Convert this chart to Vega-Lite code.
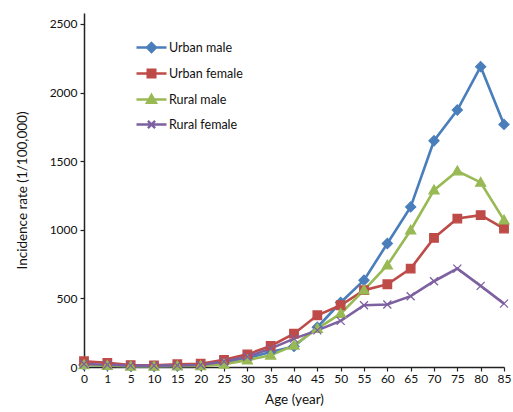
{
  "$schema": "https://vega.github.io/schema/vega-lite/v6.json",
  "width": 420,
  "height": 354,
  "autosize": "none",
  "padding": {"left": 84, "top": 13, "right": 9, "bottom": 45},
  "background": "white",
  "config": {
    "font": "Lato",
    "view": {"stroke": null},
    "axis": {"grid": false, "domainColor": "#222", "tickColor": "#222", "labelColor": "#111", "titleColor": "#111", "labelFont": "Lato", "titleFont": "Lato", "titleFontWeight": "normal", "domainWidth": 1.5, "tickWidth": 1.2}
  },
  "data": {
    "values": [
      {"age": "0", "series": "Urban male", "rate": 15},
      {"age": "1", "series": "Urban male", "rate": 12},
      {"age": "5", "series": "Urban male", "rate": 6},
      {"age": "10", "series": "Urban male", "rate": 5},
      {"age": "15", "series": "Urban male", "rate": 8},
      {"age": "20", "series": "Urban male", "rate": 12},
      {"age": "25", "series": "Urban male", "rate": 30},
      {"age": "30", "series": "Urban male", "rate": 65},
      {"age": "35", "series": "Urban male", "rate": 110},
      {"age": "40", "series": "Urban male", "rate": 150},
      {"age": "45", "series": "Urban male", "rate": 290},
      {"age": "50", "series": "Urban male", "rate": 470},
      {"age": "55", "series": "Urban male", "rate": 632},
      {"age": "60", "series": "Urban male", "rate": 900},
      {"age": "65", "series": "Urban male", "rate": 1167},
      {"age": "70", "series": "Urban male", "rate": 1649},
      {"age": "75", "series": "Urban male", "rate": 1873},
      {"age": "80", "series": "Urban male", "rate": 2189},
      {"age": "85", "series": "Urban male", "rate": 1768},
      {"age": "0", "series": "Urban female", "rate": 42},
      {"age": "1", "series": "Urban female", "rate": 30},
      {"age": "5", "series": "Urban female", "rate": 14},
      {"age": "10", "series": "Urban female", "rate": 12},
      {"age": "15", "series": "Urban female", "rate": 20},
      {"age": "20", "series": "Urban female", "rate": 24},
      {"age": "25", "series": "Urban female", "rate": 52},
      {"age": "30", "series": "Urban female", "rate": 92},
      {"age": "35", "series": "Urban female", "rate": 153},
      {"age": "40", "series": "Urban female", "rate": 243},
      {"age": "45", "series": "Urban female", "rate": 377},
      {"age": "50", "series": "Urban female", "rate": 450},
      {"age": "55", "series": "Urban female", "rate": 560},
      {"age": "60", "series": "Urban female", "rate": 603},
      {"age": "65", "series": "Urban female", "rate": 717},
      {"age": "70", "series": "Urban female", "rate": 941},
      {"age": "75", "series": "Urban female", "rate": 1082},
      {"age": "80", "series": "Urban female", "rate": 1107},
      {"age": "85", "series": "Urban female", "rate": 1009},
      {"age": "0", "series": "Rural male", "rate": 15},
      {"age": "1", "series": "Rural male", "rate": 10},
      {"age": "5", "series": "Rural male", "rate": 5},
      {"age": "10", "series": "Rural male", "rate": 5},
      {"age": "15", "series": "Rural male", "rate": 7},
      {"age": "20", "series": "Rural male", "rate": 8},
      {"age": "25", "series": "Rural male", "rate": 20},
      {"age": "30", "series": "Rural male", "rate": 50},
      {"age": "35", "series": "Rural male", "rate": 85},
      {"age": "40", "series": "Rural male", "rate": 158},
      {"age": "45", "series": "Rural male", "rate": 280},
      {"age": "50", "series": "Rural male", "rate": 389},
      {"age": "55", "series": "Rural male", "rate": 560},
      {"age": "60", "series": "Rural male", "rate": 742},
      {"age": "65", "series": "Rural male", "rate": 997},
      {"age": "70", "series": "Rural male", "rate": 1289},
      {"age": "75", "series": "Rural male", "rate": 1428},
      {"age": "80", "series": "Rural male", "rate": 1345},
      {"age": "85", "series": "Rural male", "rate": 1070},
      {"age": "0", "series": "Rural female", "rate": 22},
      {"age": "1", "series": "Rural female", "rate": 16},
      {"age": "5", "series": "Rural female", "rate": 10},
      {"age": "10", "series": "Rural female", "rate": 10},
      {"age": "15", "series": "Rural female", "rate": 12},
      {"age": "20", "series": "Rural female", "rate": 15},
      {"age": "25", "series": "Rural female", "rate": 40},
      {"age": "30", "series": "Rural female", "rate": 75},
      {"age": "35", "series": "Rural female", "rate": 134},
      {"age": "40", "series": "Rural female", "rate": 207},
      {"age": "45", "series": "Rural female", "rate": 267},
      {"age": "50", "series": "Rural female", "rate": 336},
      {"age": "55", "series": "Rural female", "rate": 450},
      {"age": "60", "series": "Rural female", "rate": 455},
      {"age": "65", "series": "Rural female", "rate": 516},
      {"age": "70", "series": "Rural female", "rate": 625},
      {"age": "75", "series": "Rural female", "rate": 717},
      {"age": "80", "series": "Rural female", "rate": 591},
      {"age": "85", "series": "Rural female", "rate": 462}
    ]
  },
  "encoding": {
    "x": {
      "field": "age", "type": "ordinal", "sort": null,
      "scale": {"type": "point", "padding": 0},
      "axis": {"title": "Age (year)", "labelAngle": 0, "labelFontSize": 12, "titleFontSize": 13.5, "tickSize": 4, "labelPadding": 2, "titlePadding": 8}
    },
    "y": {
      "field": "rate", "type": "quantitative",
      "scale": {"domain": [0, 2580], "nice": false},
      "axis": {"title": "Incidence rate (1/100,000)", "values": [0, 500, 1000, 1500, 2000, 2500], "format": "d", "labelFontSize": 12, "titleFontSize": 13.5, "tickSize": 4, "labelPadding": 3, "titlePadding": 20}
    },
    "color": {
      "field": "series", "type": "nominal",
      "scale": {"domain": ["Urban male", "Urban female", "Rural male", "Rural female"], "range": ["#4A7EBB", "#BE4B48", "#98B954", "#7D60A0"]},
      "legend": {
        "title": null,
        "orient": "none",
        "legendX": 56,
        "legendY": 23,
        "padding": 0,
        "symbolSize": 400,
        "rowPadding": 5,
        "labelOffset": 6,
        "labelFont": "Lato",
        "labelFontSize": 12.5,
        "labelColor": "#111",
        "encode": {
          "symbols": {
            "update": {
              "shape": {"signal": "datum.value === 'Urban male' ? 'M-1.5,0L1.5,0M0,-0.45L0.45,0L0,0.45L-0.45,0Z' : datum.value === 'Urban female' ? 'M-1.5,0L1.5,0M-0.38,-0.38H0.38V0.38H-0.38Z' : datum.value === 'Rural male' ? 'M-1.5,0L1.5,0M0,-0.45L0.45,0.34L-0.45,0.34Z' : 'M-1.5,0L1.5,0M-0.36,-0.36L0.36,0.36M-0.36,0.36L0.36,-0.36'"},
              "fill": {"signal": "scale('color', datum.value)"},
              "stroke": {"signal": "scale('color', datum.value)"},
              "strokeWidth": {"value": 2.4},
              "opacity": {"value": 1},
              "fillOpacity": {"value": 1},
              "strokeOpacity": {"value": 1}
            }
          }
        }
      }
    }
  },
  "layer": [
    {
      "mark": {"type": "line", "strokeWidth": 2.6},
      "encoding": {"detail": {"field": "series"}}
    },
    {
      "mark": {"type": "point", "filled": true, "opacity": 1, "size": 100, "strokeWidth": 1.3},
      "encoding": {
        "stroke": {"field": "series", "type": "nominal", "legend": null,
          "scale": {"domain": ["Urban male", "Urban female", "Rural male", "Rural female"], "range": ["#4A7EBB", "#BE4B48", "#98B954", "#7D60A0"]}},
        "shape": {
          "field": "series", "type": "nominal", "legend": null,
          "scale": {"domain": ["Rural female", "Rural male", "Urban female", "Urban male"], "range": ["M-0.8,-0.8L0.8,0.8M-0.8,0.8L0.8,-0.8", "M0,-1L1,0.75L-1,0.75Z", "M-0.85,-0.85H0.85V0.85H-0.85Z", "M0,-1L1,0L0,1L-1,0Z"]}
        }
      }
    }
  ]
}
